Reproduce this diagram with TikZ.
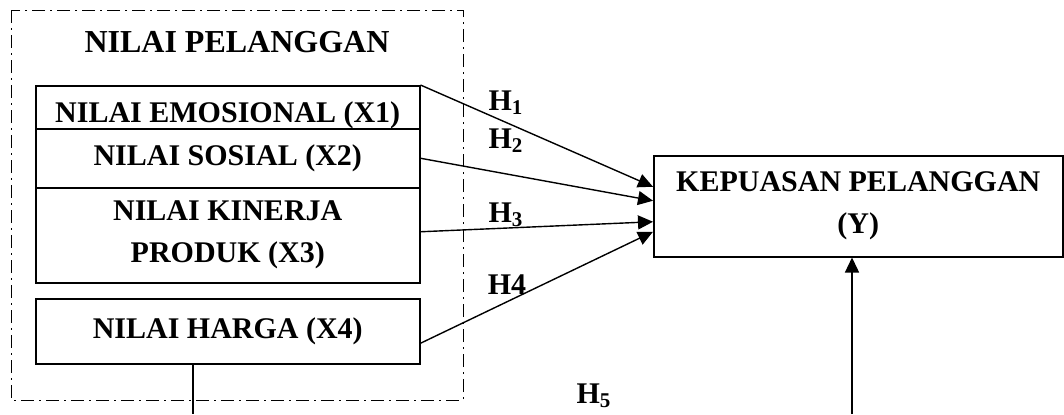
\documentclass[tikz,border=0pt]{standalone}
\usepackage{fontspec}
\setmainfont{Liberation Serif}
\usetikzlibrary{arrows.meta, math}

\begin{document}
\begin{tikzpicture}[x=0.5pt, y=-0.5pt,
  varbox/.style={draw, line width=0.75pt, fill=white, align=center, inner sep=0pt,
    anchor=north west, font=\fontsize{15}{21}\selectfont\bfseries},
  hyp/.style={font=\fontsize{15}{18}\selectfont\bfseries},
  panah/.style={line width=0.7pt, -{Triangle[length=7.5pt,width=7pt]}}]
\tikzmath{
\bx=35;
\bw=192;
}
\useasboundingbox (0,0) rectangle (1064,414);

\draw[line width=0.5pt, dash pattern=on 6.5pt off 2.5pt on 1pt off 2.5pt] (11,10) rectangle (463,400);
\node[hyp, font=\fontsize{16}{18}\selectfont\bfseries] (judul) at (237,42) {NILAI PELANGGAN};

\node[varbox, minimum width=\bw pt, minimum height=30pt] (x1) at (\bx,85) {NILAI EMOSIONAL (X1)};
\node[varbox, minimum width=\bw pt, minimum height=29.5pt] (x2) at (\bx,128) {NILAI SOSIAL (X2)};
\node[varbox, minimum width=\bw pt, minimum height=47.5pt] (x3) at (\bx,187) {NILAI KINERJA\\PRODUK (X3)};
\node[varbox, minimum width=\bw pt, minimum height=32.5pt] (x4) at (\bx,298) {NILAI HARGA (X4)};

\node[varbox, minimum width=204.5pt, minimum height=50.5pt] (y) at (653,155) {KEPUASAN PELANGGAN\\(Y)};

\draw[panah] (x1.north east) -- ([yshift=9.75pt]y.west);
\draw[panah] (x2.east) -- ([yshift=2.75pt]y.west);
\draw[panah] ([yshift=1.75pt]x3.east) -- ([yshift=-7.75pt]y.west);
\draw[panah] ([yshift=-6pt]x4.east) -- ([yshift=-12.75pt]y.west);

\node[hyp] (h1) at (506,103) {H\textsubscript{1}};
\node[hyp] (h2) at (506,141) {H\textsubscript{2}};
\node[hyp] (h3) at (506,215) {H\textsubscript{3}};
\node[hyp] (h4) at (507,285) {H4};
\node[hyp] (h5) at (594,396) {H\textsubscript{5}};

% H5 path runs off the bottom edge
\coordinate (b1) at (193,414);
\coordinate (b2) at (852,414);
\draw[line width=0.7pt] (x4.south -| b1) -- (b1);
\draw[panah] (b2) -- (y.south -| b2);
\end{tikzpicture}
\end{document}
